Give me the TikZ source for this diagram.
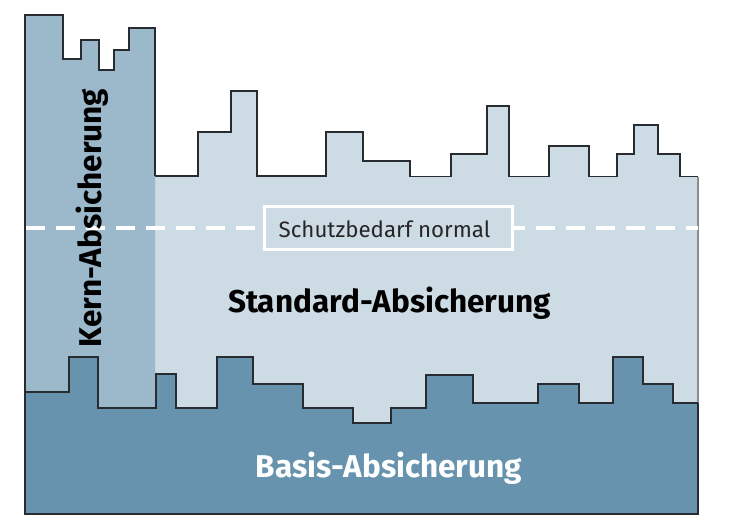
\documentclass[tikz,border=0pt]{standalone}
\usepackage{fontspec}
\setmainfont{Fira Sans}
\definecolor{kernc}{RGB}{156,184,203}
\definecolor{stdc}{RGB}{205,219,228}
\definecolor{basisc}{RGB}{103,147,174}
\definecolor{edgec}{RGB}{40,44,48}
\tikzset{
  outline/.style={draw=edgec, line width=1.5pt, line join=miter},
  bigtext/.style={font=\bfseries\fontsize{31.5}{36}\selectfont, inner sep=0pt, anchor=base},
  labelbox/.style={draw=white, line width=3pt, fill=stdc, minimum width=248pt, minimum height=43pt, inner sep=0pt},
  dashline/.style={draw=white, line width=4.5pt, dash pattern=on 19pt off 11pt}
}
\begin{document}
\begin{tikzpicture}[x=1pt,y=-1pt]
\useasboundingbox (0,0) rectangle (731,531);
% standard area
\fill[stdc] (25,514) -- (25,176) -- (155,176) -- (198,176) -- (198,132) -- (231,132) -- (231,91) -- (257,91) -- (257,176) -- (326,176) -- (326,132) -- (363,132) -- (363,161) -- (410,161) -- (410,176.5) -- (451,176.5) -- (451,154) -- (487,154) -- (487,106) -- (509,106) -- (509,176.5) -- (549,176.5) -- (549,146) -- (589,146) -- (589,176.5) -- (617,176.5) -- (617,154) -- (634,154) -- (634,125) -- (658,125) -- (658,154) -- (680,154) -- (680,176.5) -- (698,176.5) -- (698,514) -- cycle;
\draw[outline] (155,176) -- (198,176) -- (198,132) -- (231,132) -- (231,91) -- (257,91) -- (257,176) -- (326,176) -- (326,132) -- (363,132) -- (363,161) -- (410,161) -- (410,176.5) -- (451,176.5) -- (451,154) -- (487,154) -- (487,106) -- (509,106) -- (509,176.5) -- (549,176.5) -- (549,146) -- (589,146) -- (589,176.5) -- (617,176.5) -- (617,154) -- (634,154) -- (634,125) -- (658,125) -- (658,154) -- (680,154) -- (680,176.5) -- (698,176.5);
\draw[draw=gray!90, line width=2pt] (698,176.5) -- (698,403);
% kern area
\fill[kernc] (25,514) -- (25,15) -- (63,15) -- (63,59) -- (81,59) -- (81,40) -- (99,40) -- (99,70) -- (114,70) -- (114,50) -- (129,50) -- (129,28) -- (155,28) -- (155,514) -- cycle;
\draw[outline] (25,392) -- (25,15) -- (63,15) -- (63,59) -- (81,59) -- (81,40) -- (99,40) -- (99,70) -- (114,70) -- (114,50) -- (129,50) -- (129,28) -- (155,28) -- (155,176);
% dashed line and label
\draw[dashline] (26,228) -- (698,228);
\node[labelbox] (schutz) at (388.5,228) {};
\node[font=\fontsize{22.3}{26}\selectfont, text=black!85, inner sep=0pt, anchor=base] (schutztext) at (384.5,237) {Schutzbedarf normal};
% basis area
\fill[basisc] (25,392) -- (69,392) -- (69,357) -- (98,357) -- (98,408) -- (156,408) -- (156,374) -- (176,374) -- (176,408) -- (217,408) -- (217,357) -- (253,357) -- (253,384) -- (303,384) -- (303,408) -- (353,408) -- (353,423) -- (391,423) -- (391,408) -- (426,408) -- (426,375) -- (473,375) -- (473,403) -- (538,403) -- (538,384) -- (579,384) -- (579,403) -- (613,403) -- (613,357) -- (643,357) -- (643,384) -- (673,384) -- (673,403) -- (698,403) -- (698,514) -- (25,514) -- cycle;
\draw[outline] (25,392) -- (69,392) -- (69,357) -- (98,357) -- (98,408) -- (156,408) -- (156,374) -- (176,374) -- (176,408) -- (217,408) -- (217,357) -- (253,357) -- (253,384) -- (303,384) -- (303,408) -- (353,408) -- (353,423) -- (391,423) -- (391,408) -- (426,408) -- (426,375) -- (473,375) -- (473,403) -- (538,403) -- (538,384) -- (579,384) -- (579,403) -- (613,403) -- (613,357) -- (643,357) -- (643,384) -- (673,384) -- (673,403) -- (698,403);
\draw[outline] (25,392) -- (25,514) -- (698,514) -- (698,403);
% labels
\node[bigtext, text=black] (standard) at (389.5,312) {Standard-Absicherung};
\node[bigtext, text=white] (basis) at (389,477) {Basis-Absicherung};
\node[bigtext, text=black, rotate=90] (kern) at (101,218) {Kern-Absicherung};
\end{tikzpicture}
\end{document}
